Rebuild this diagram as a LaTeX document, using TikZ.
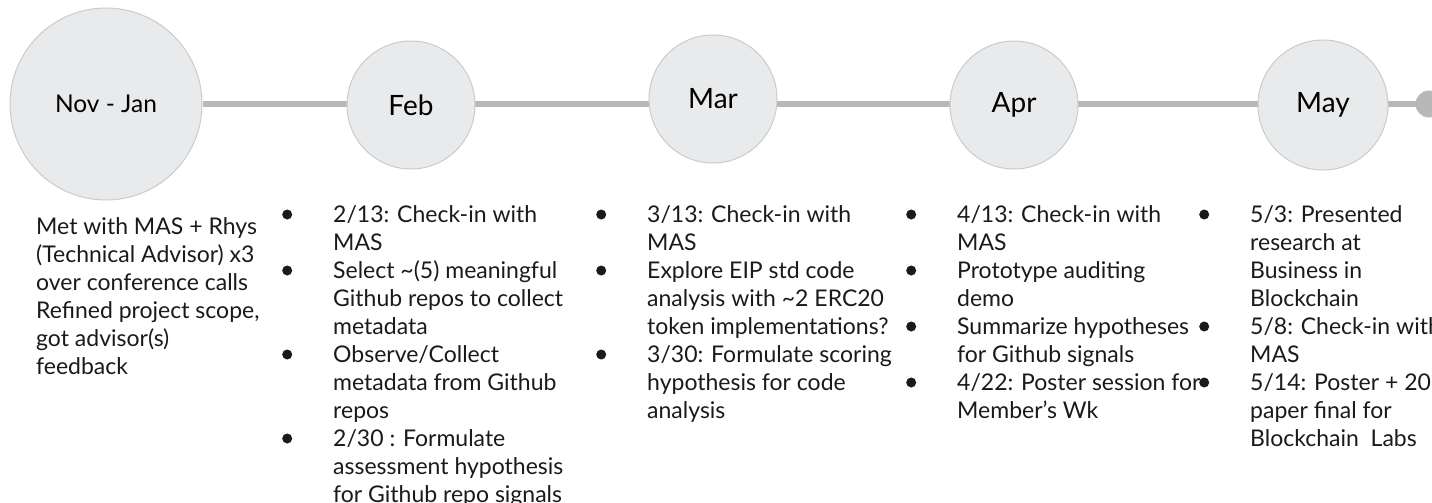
\documentclass[tikz,border=0pt]{standalone}
\usepackage{fontspec}
\setmainfont{Lato}
\usepackage{tikz}
\usetikzlibrary{
    backgrounds % For putting the track behind the month discs
}
\definecolor{ring_gray}{HTML}{C9CBCC}
\definecolor{disc_gray}{HTML}{E8EAEB}
\definecolor{track_gray}{HTML}{B8B8B8}
\definecolor{ink_gray}{HTML}{1A1A1A}
\tikzset{
    % A disc for each month on the track
    month_node/.style={
        circle, draw=ring_gray, fill=disc_gray, line width=1pt,
        inner sep=0pt, text=black, font=\fontsize{28}{34}\selectfont
    },
    % The dot closing the track
    end_node/.style={
        circle, fill=track_gray, inner sep=0pt, minimum size=27pt
    },
    % A column of notes under a month
    notes_node/.style={
        anchor=base west, inner sep=0pt, text=ink_gray,
        font=\fontsize{23}{28}\selectfont
    },
    % The horizontal track
    track_line/.style={line width=6pt, draw=track_gray}
}
% bullet of a list entry
\newcommand{\tlbul}{\makebox[51pt][l]{\tikz[baseline=-7.5pt]\fill[ink_gray] (5pt,0pt) circle (5pt);}}

\begin{document}
\begin{tikzpicture}[x=1pt, y=-1pt]
\useasboundingbox (0,0) rectangle (1432,503);

% --- MONTH DISCS ---
\node[month_node, minimum size=192pt, font=\fontsize{24.5}{30}\selectfont] (novjan) at (106,104) {Nov - Jan};
\node[month_node, minimum size=128pt] (feb) at (411,105) {Feb};
\node[month_node, minimum size=128pt] (mar) at (713,99) {Mar};
\node[month_node, minimum size=128pt] (apr) at (1014,105) {Apr};
\node[month_node, minimum size=130pt] (may) at (1323,105) {May};
\node[end_node] (track_end) at (1429,104) {};

% --- TRACK ---
\begin{scope}[on background layer]
\draw[track_line] (novjan.east) -- (track_end.center);
\end{scope}

% --- NOTES ---
\node[notes_node] (novjan_notes) at (36,234) {%
    \begin{tabular}[t]{@{}l@{}}
    Met with MAS + Rhys\\
    (Technical Advisor) x3\\
    over conference calls\\
    Refined project scope,\\
    got advisor(s)\\
    feedback
    \end{tabular}};

\node[notes_node] (feb_notes) at (282,222) {%
    \begin{tabular}[t]{@{}l@{}l@{}}
    \tlbul & 2/13: Check-in with\\
           & MAS\\
    \tlbul & Select \textasciitilde(5) meaningful\\
           & Github repos to collect\\
           & metadata\\
    \tlbul & Observe/Collect\\
           & metadata from Github\\
           & repos\\
    \tlbul & 2/30 : Formulate\\
           & assessment hypothesis\\
           & for Github repo signals
    \end{tabular}};

\node[notes_node] (mar_notes) at (596,222) {%
    \begin{tabular}[t]{@{}l@{}l@{}}
    \tlbul & 3/13: Check-in with\\
           & MAS\\
    \tlbul & Explore EIP std code\\
           & analysis with \textasciitilde2 ERC20\\
           & token implementa\kern0pt tions?\\
    \tlbul & 3/30: Formulate scoring\\
           & hypothesis for code\\
           & analysis
    \end{tabular}};

\node[notes_node] (apr_notes) at (906,222) {%
    \begin{tabular}[t]{@{}l@{}l@{}}
    \tlbul & 4/13: Check-in with\\
           & MAS\\
    \tlbul & Prototype audi\kern0pt ting\\
           & demo\\
    \tlbul & Summarize hypotheses\\
           & for Github signals\\
    \tlbul & 4/22: Poster session for\\
           & Member’s Wk
    \end{tabular}};

\node[notes_node] (may_notes) at (1199,222) {%
    \begin{tabular}[t]{@{}l@{}l@{}}
    \tlbul & 5/3: Presented\\
           & research at\\
           & Business in\\
           & Blockchain\\
    \tlbul & 5/8: Check-in with\\
           & MAS\\
    \tlbul & 5/14: Poster + 20pg\\
           & paper final for\\
           & Blockchain\ \ Labs
    \end{tabular}};

\end{tikzpicture}
\end{document}
